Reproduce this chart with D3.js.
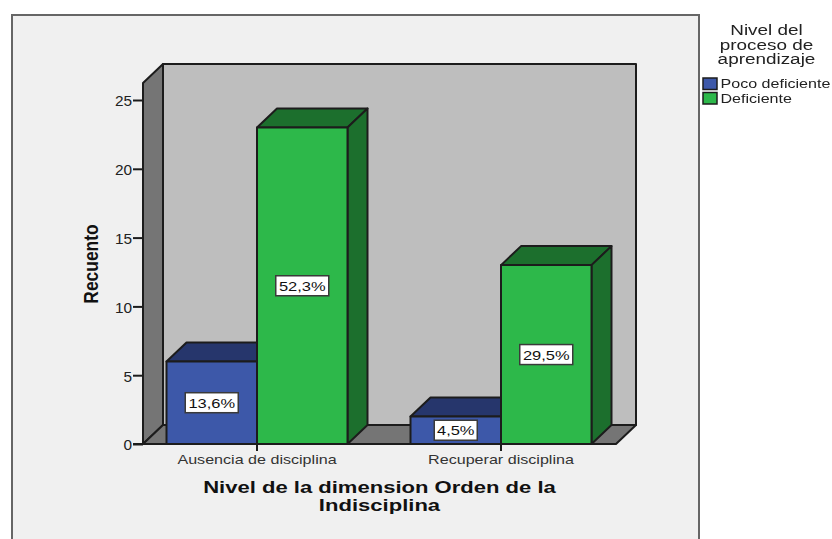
<!DOCTYPE html>
<html><head><meta charset="utf-8">
<script src="https://cdn.jsdelivr.net/npm/d3@7"></script>
<style>html,body{margin:0;padding:0;background:#fff}svg{display:block;filter:blur(.35px)}text{font-family:"Liberation Sans",Arial,sans-serif}</style>
</head><body><svg id="c" width="832" height="539"></svg>
<script>
const categories=["Ausencia de disciplina","Recuperar disciplina"];
const seriesNames=["Poco deficiente","Deficiente"];
const pocoDeficiente=[6,2];
const deficiente=[23,13];
const pocoLabels=["13,6%","4,5%"];
const deficienteLabels=["52,3%","29,5%"];
const yTicks=[0,5,10,15,20,25];
const legendTitle=["Nivel del","proceso de","aprendizaje"];
const xTitle=["Nivel de la dimension Orden de la","Indisciplina"];
const yTitle="Recuento";
const colors=[{f:"#3d58a9",d:"#26366c"},{f:"#2db84a",d:"#1c6f2d"}];
const ink="#1c1c1c";
const svg=d3.select("#c");
// stretch a text to the wide, squat look of the original export
const stretch=(sel,k)=>sel.each(function(){const l=this.getComputedTextLength();d3.select(this).attr("textLength",l*k).attr("lengthAdjust","spacingAndGlyphs");});
svg.append("rect").attr("x",12).attr("y",15).attr("width",687).attr("height",530).attr("fill","#f0f0f0").attr("stroke","#666").attr("stroke-width",2);
const y=d3.scaleLinear().domain([0,25]).range([444,100]);
const x=d3.scaleBand().domain(categories).range([135,623]);
const sub=d3.scaleBand().domain(seriesNames).range([31.5,212.5]);
const dx=20,dy=-19,left=143,right=616,floor=y(0),ceil=83;
const poly=(pts,fill)=>svg.append("polygon").attr("points",pts.map(p=>p.join(",")).join(" ")).attr("fill",fill).attr("stroke",ink).attr("stroke-width",2).attr("stroke-linejoin","round");
poly([[left+dx,ceil+dy],[right+dx,ceil+dy],[right+dx,floor+dy],[left+dx,floor+dy]],"#bebebe");
poly([[left,ceil],[left+dx,ceil+dy],[left+dx,floor+dy],[left,floor]],"#757575");
poly([[left,floor],[left+dx,floor+dy],[right+dx,floor+dy],[right,floor]],"#757575");
function bar(x0,w,top,c){
  poly([[x0,top],[x0+dx,top+dy],[x0+w+dx,top+dy],[x0+w,top]],c.d);
  poly([[x0+w,top],[x0+w+dx,top+dy],[x0+w+dx,floor+dy],[x0+w,floor]],c.d);
  poly([[x0,top],[x0+w,top],[x0+w,floor],[x0,floor]],c.f);
}
function label(cx,cy,t){
  const g=svg.append("g");
  const w=t.length>4?53:43;
  g.append("rect").attr("x",cx-w/2).attr("y",cy-10).attr("width",w).attr("height",20).attr("fill","#fff").attr("stroke","#3a3a3a").attr("stroke-width",1.5);
  g.append("text").attr("x",cx).attr("y",cy+5).attr("text-anchor","middle").attr("font-size",13.5).attr("fill","#111").text(t).call(stretch,1.22);
}
categories.forEach((cat,i)=>{
  [pocoDeficiente,deficiente].forEach((vals,s)=>{
    bar(x(cat)+sub(seriesNames[s]),sub.bandwidth(),y(vals[i]),colors[s]);
  });
});
categories.forEach((cat,i)=>{
  [[pocoDeficiente,pocoLabels],[deficiente,deficienteLabels]].forEach(([vals,labs],s)=>{
    label(x(cat)+sub(seriesNames[s])+sub.bandwidth()/2,(y(vals[i])+floor)/2,labs[i]);
  });
});
const yAxis=d3.axisLeft(y).tickValues(yTicks).tickSize(10).tickPadding(1);
const ga=svg.append("g").attr("transform",`translate(${left},0)`).call(yAxis);
ga.select(".domain").remove();
ga.selectAll("line").attr("stroke",ink).attr("stroke-width",2);
ga.selectAll("text").attr("font-size",14).attr("fill","#222").attr("y",1.5).call(stretch,1.1);
const xAxis=d3.axisBottom(x).tickSize(7).tickPadding(4);
const gx=svg.append("g").attr("transform",`translate(0,${floor})`).call(xAxis);
gx.select(".domain").remove();
gx.selectAll("line").attr("stroke",ink).attr("stroke-width",2);
gx.selectAll("text").attr("font-size",13.3).attr("fill","#333").call(stretch,1.21);
svg.append("line").attr("x1",left-10).attr("x2",right).attr("y1",floor).attr("y2",floor).attr("stroke",ink).attr("stroke-width",2);
xTitle.forEach((t,i)=>svg.append("text").attr("x",379.5).attr("y",493+i*18).attr("text-anchor","middle").attr("font-size",15.8).attr("font-weight","bold").attr("fill","#111").text(t).call(stretch,1.395));
svg.append("text").attr("transform","translate(98,264) rotate(-90)").attr("text-anchor","middle").attr("font-size",20).attr("font-weight","bold").attr("fill","#111").text(yTitle).call(stretch,0.87);
legendTitle.forEach((t,i)=>svg.append("text").attr("x",766.5).attr("y",35+i*14.7).attr("text-anchor","middle").attr("font-size",14).attr("fill","#222").text(t).call(stretch,1.35));
seriesNames.forEach((n,i)=>{
  svg.append("rect").attr("x",703).attr("y",78+i*14.5).attr("width",14).attr("height",11.5).attr("fill",colors[i].f).attr("stroke",ink).attr("stroke-width",1.5);
  svg.append("text").attr("x",720.5).attr("y",88+i*15).attr("font-size",13.5).attr("fill","#222").text(n).call(stretch,1.19);
});
</script></body></html>
